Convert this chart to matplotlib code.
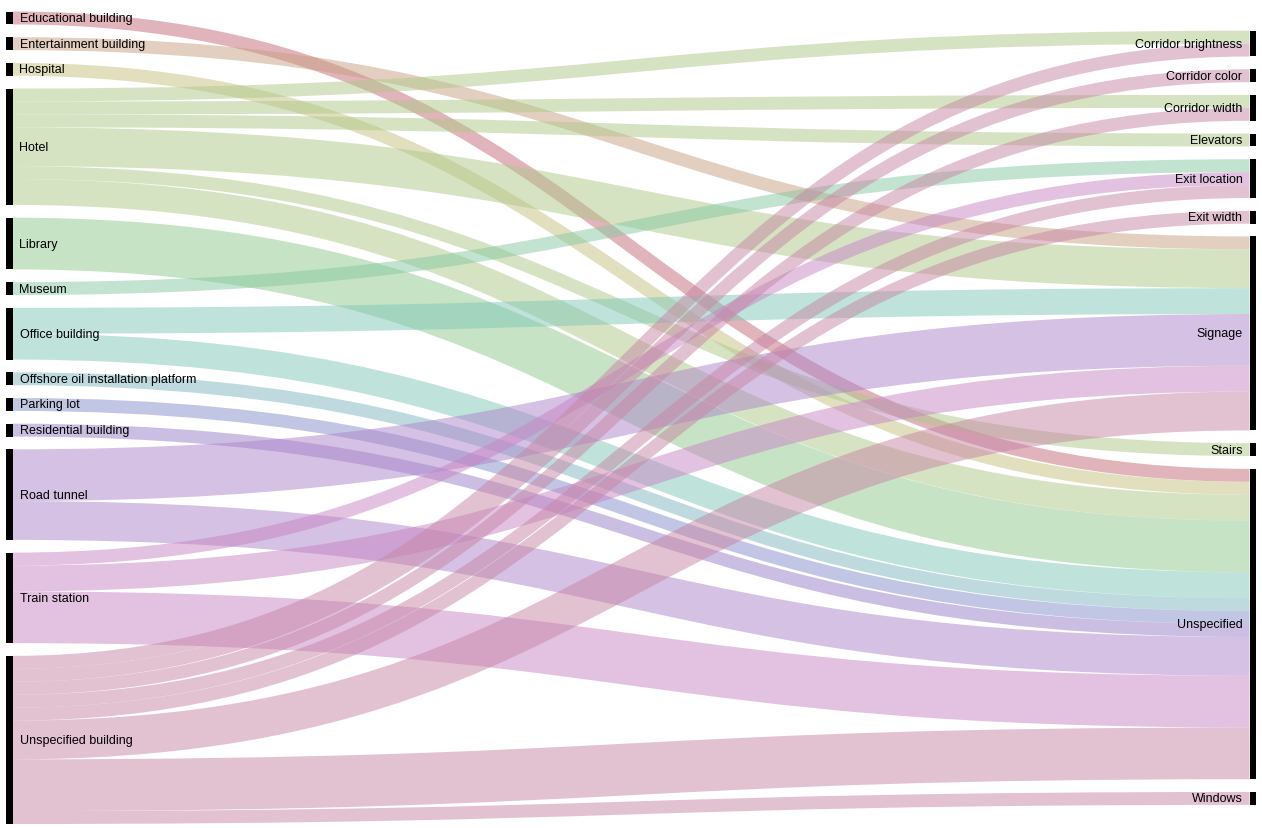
import numpy as np
import matplotlib
matplotlib.use("Agg")
import matplotlib.pyplot as plt
from matplotlib.path import Path
from matplotlib.patches import PathPatch, Rectangle

plt.rcParams['font.family'] = ['Liberation Sans', 'DejaVu Sans']

# building types (left column) and measures (right column)
sources = ["Educational building", "Entertainment building", "Hospital", "Hotel",
           "Library", "Museum", "Office building", "Offshore oil installation platform",
           "Parking lot", "Residential building", "Road tunnel", "Train station",
           "Unspecified building"]
targets = ["Corridor brightness", "Corridor color", "Corridor width", "Elevators",
           "Exit location", "Exit width", "Signage", "Stairs", "Unspecified", "Windows"]

# flows: source -> target : count
link_src = ["Educational building", "Entertainment building", "Hospital",
            "Hotel", "Hotel", "Hotel", "Hotel", "Hotel", "Hotel",
            "Library", "Museum",
            "Office building", "Office building",
            "Offshore oil installation platform", "Parking lot", "Residential building",
            "Road tunnel", "Road tunnel",
            "Train station", "Train station", "Train station",
            "Unspecified building", "Unspecified building", "Unspecified building",
            "Unspecified building", "Unspecified building", "Unspecified building",
            "Unspecified building", "Unspecified building"]
link_tgt = ["Unspecified", "Signage", "Unspecified",
            "Corridor brightness", "Corridor width", "Elevators", "Signage", "Stairs", "Unspecified",
            "Unspecified", "Exit location",
            "Signage", "Unspecified",
            "Unspecified", "Unspecified", "Unspecified",
            "Signage", "Unspecified",
            "Exit location", "Signage", "Unspecified",
            "Corridor brightness", "Corridor color", "Corridor width", "Exit location",
            "Exit width", "Signage", "Unspecified", "Windows"]
link_val = [1, 1, 1,
            1, 1, 1, 3, 1, 2,
            4, 1,
            2, 2,
            1, 1, 1,
            4, 3,
            1, 2, 4,
            1, 1, 1, 1, 1, 3, 4, 1]

# one colour per building type
src_colors = ["#c56977", "#c7a181", "#c7c181", "#afc989", "#8fc98d", "#87c9a1",
              "#81c7b9", "#7fb7c1", "#838fc9", "#977fc7", "#ad85c9", "#c785c5",
              "#c785a5"]

W, H, DPI = 1262, 829, 100
node_w = 6.5
x_left, x_right = 6, 1256 - node_w
y_top, y_bot = 12.5, 825
pad = 12.75


def node_values(names, keys):
    return [sum(v for k, v in zip(keys, link_val) if k == n) for n in names]


src_tot = node_values(sources, link_src)
tgt_tot = node_values(targets, link_tgt)
ky = min((y_bot - y_top - (len(c) - 1) * pad) / sum(t)
         for c, t in [(sources, src_tot), (targets, tgt_tot)])


def stack(totals):
    h = [t * ky for t in totals]
    span = sum(h) + (len(h) - 1) * pad
    y = (y_top + y_bot) / 2 - span / 2
    out = []
    for hh in h:
        out.append((y, y + hh))
        y += hh + pad
    return out


src_pos = stack(src_tot)
tgt_pos = stack(tgt_tot)

fig = plt.figure(figsize=(W / DPI, H / DPI), dpi=DPI)
ax = fig.add_axes([0, 0, 1, 1])
ax.set_xlim(0, W)
ax.set_ylim(H, 0)
ax.axis("off")

# link offsets: at source sorted by target order, at target sorted by source order
idx = range(len(link_val))
src_off = {}
cur = {s: src_pos[i][0] for i, s in enumerate(sources)}
for k in sorted(idx, key=lambda k: (sources.index(link_src[k]), targets.index(link_tgt[k]))):
    w = link_val[k] * ky
    src_off[k] = cur[link_src[k]] + w / 2
    cur[link_src[k]] += w
tgt_off = {}
cur = {t: tgt_pos[i][0] for i, t in enumerate(targets)}
for k in sorted(idx, key=lambda k: (targets.index(link_tgt[k]), sources.index(link_src[k]))):
    w = link_val[k] * ky
    tgt_off[k] = cur[link_tgt[k]] + w / 2
    cur[link_tgt[k]] += w

xa, xb = x_left + node_w, x_right
xm = (xa + xb) / 2
for k in idx:
    y0, y1 = src_off[k], tgt_off[k]
    path = Path([(xa, y0), (xm, y0), (xm, y1), (xb, y1)],
                [Path.MOVETO, Path.CURVE4, Path.CURVE4, Path.CURVE4])
    col = src_colors[sources.index(link_src[k])]
    ax.add_patch(PathPatch(path, fill=False, edgecolor=col, alpha=0.5,
                           linewidth=link_val[k] * ky * 72 / DPI, capstyle="butt"))

for name, (a, b) in zip(sources, src_pos):
    ax.add_patch(Rectangle((x_left, a), node_w, b - a, color="black", lw=0))
    ax.text(x_left + node_w + 7, (a + b) / 2, name, fontsize=9, ha="left", va="center")
for name, (a, b) in zip(targets, tgt_pos):
    ax.add_patch(Rectangle((x_right, a), node_w, b - a, color="black", lw=0))
    ax.text(x_right - 7, (a + b) / 2, name, fontsize=9, ha="right", va="center")

fig.savefig("out.png", dpi=DPI)
